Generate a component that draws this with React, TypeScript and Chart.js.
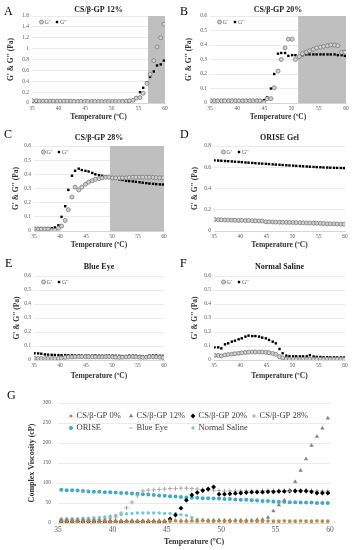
import React, { useEffect, useRef } from "react";
import { Chart, registerables } from "chart.js";

Chart.register(...registerables);

const SERIF = "'Liberation Serif', 'Times New Roman', serif";

// ---------------- Data: oscillatory rheology (G', G'') ----------------
const tempsGel = [35.1, 35.8, 36.4, 37.1, 37.7, 38.4, 39.0, 39.7, 40.3, 41.0, 41.6, 42.3, 42.9, 43.6, 44.2, 44.9, 45.5, 46.2, 46.8, 47.5, 48.1, 48.8, 49.4, 50.1, 50.7, 51.4, 52.0, 52.7, 53.3, 54.0, 54.6, 55.3, 55.9, 56.6, 57.2, 57.9, 58.5, 59.2, 59.8];

const storage12 = [0.04, 0.04, 0.035, 0.035, 0.035, 0.035, 0.035, 0.035, 0.035, 0.035, 0.035, 0.035, 0.03, 0.03, 0.03, 0.03, 0.03, 0.03, 0.03, 0.03, 0.03, 0.03, 0.03, 0.03, 0.03, 0.03, 0.03, 0.035, 0.04, 0.05, 0.09, 0.1, 0.18, 0.36, 0.53, 0.78, 1.03, 1.2, 1.45];
const loss12 = [0.02, 0.02, 0.02, 0.02, 0.02, 0.02, 0.02, 0.02, 0.02, 0.02, 0.02, 0.02, 0.02, 0.02, 0.02, 0.02, 0.02, 0.02, 0.02, 0.02, 0.02, 0.02, 0.02, 0.02, 0.02, 0.02, 0.02, 0.025, 0.03, 0.04, 0.1, 0.2, 0.28, 0.38, 0.48, 0.58, 0.69, 0.71, 0.78];

const storage20 = [0.015, 0.015, 0.015, 0.015, 0.015, 0.015, 0.015, 0.015, 0.015, 0.015, 0.015, 0.015, 0.015, 0.015, 0.015, 0.005, 0.03, 0.03, 0.105, 0.22, 0.3, 0.38, 0.44, 0.44, 0.3, 0.32, 0.34, 0.35, 0.36, 0.37, 0.38, 0.385, 0.39, 0.395, 0.4, 0.4, 0.395, 0.35, 0.35];
const loss20 = [0.02, 0.02, 0.02, 0.02, 0.02, 0.02, 0.02, 0.02, 0.02, 0.02, 0.02, 0.02, 0.02, 0.02, 0.02, 0.02, 0.04, 0.1, 0.2, 0.34, 0.345, 0.345, 0.325, 0.33, 0.33, 0.32, 0.33, 0.335, 0.335, 0.335, 0.335, 0.335, 0.335, 0.335, 0.335, 0.335, 0.33, 0.33, 0.325];

const storage28 = [0.015, 0.015, 0.015, 0.015, 0.015, 0.005, 0.005, 0.02, 0.035, 0.075, 0.15, 0.24, 0.31, 0.29, 0.31, 0.33, 0.345, 0.355, 0.365, 0.37, 0.375, 0.38, 0.38, 0.375, 0.375, 0.375, 0.375, 0.375, 0.378, 0.38, 0.38, 0.38, 0.38, 0.38, 0.38, 0.378, 0.377, 0.376, 0.375];
const loss28 = [0.02, 0.02, 0.02, 0.02, 0.02, 0.02, 0.025, 0.04, 0.1, 0.175, 0.29, 0.39, 0.425, 0.44, 0.43, 0.425, 0.42, 0.41, 0.4, 0.395, 0.39, 0.385, 0.38, 0.375, 0.37, 0.365, 0.36, 0.355, 0.352, 0.35, 0.347, 0.344, 0.341, 0.338, 0.335, 0.333, 0.331, 0.329, 0.328];

const storageOrise = [0.108, 0.106, 0.105, 0.104, 0.103, 0.102, 0.101, 0.1, 0.1, 0.099, 0.098, 0.097, 0.096, 0.095, 0.094, 0.087, 0.086, 0.085, 0.084, 0.083, 0.082, 0.081, 0.081, 0.08, 0.079, 0.078, 0.077, 0.076, 0.075, 0.074, 0.073, 0.072, 0.07, 0.069, 0.068, 0.067, 0.066, 0.065, 0.064];
const lossOrise = [0.665, 0.663, 0.661, 0.659, 0.657, 0.655, 0.652, 0.65, 0.648, 0.645, 0.643, 0.641, 0.638, 0.636, 0.634, 0.632, 0.63, 0.627, 0.625, 0.623, 0.621, 0.619, 0.617, 0.615, 0.613, 0.611, 0.609, 0.607, 0.605, 0.603, 0.601, 0.6, 0.598, 0.597, 0.596, 0.595, 0.594, 0.593, 0.592];

const storageBlueEye = [0.012, 0.011, 0.01, 0.01, 0.01, 0.01, 0.01, 0.011, 0.013, 0.018, 0.021, 0.022, 0.023, 0.024, 0.024, 0.024, 0.023, 0.023, 0.022, 0.022, 0.022, 0.023, 0.023, 0.022, 0.02, 0.019, 0.02, 0.021, 0.022, 0.023, 0.022, 0.02, 0.019, 0.02, 0.023, 0.024, 0.022, 0.02, 0.018];
const lossBlueEye = [0.048, 0.047, 0.045, 0.04, 0.038, 0.037, 0.036, 0.035, 0.035, 0.035, 0.034, 0.034, 0.033, 0.033, 0.032, 0.032, 0.031, 0.031, 0.032, 0.031, 0.03, 0.031, 0.032, 0.031, 0.03, 0.03, 0.028, 0.028, 0.031, 0.031, 0.03, 0.028, 0.027, 0.027, 0.031, 0.033, 0.032, 0.03, 0.029];

const storageSaline = [0.033, 0.033, 0.029, 0.036, 0.039, 0.042, 0.045, 0.048, 0.051, 0.054, 0.056, 0.057, 0.057, 0.057, 0.057, 0.055, 0.052, 0.047, 0.04, 0.024, 0.014, 0.007, 0.005, 0.005, 0.005, 0.005, 0.005, 0.005, 0.005, 0.005, 0.005, 0.005, 0.005, 0.005, 0.005, 0.005, 0.005, 0.005, 0.005];
const lossSaline = [0.09, 0.09, 0.083, 0.112, 0.119, 0.131, 0.138, 0.148, 0.155, 0.167, 0.174, 0.171, 0.171, 0.167, 0.16, 0.155, 0.143, 0.131, 0.119, 0.079, 0.048, 0.031, 0.027, 0.026, 0.026, 0.026, 0.026, 0.026, 0.034, 0.025, 0.022, 0.022, 0.02, 0.02, 0.019, 0.019, 0.018, 0.018, 0.018];

// gel-region shading (temperature ranges)
const shade12 = [56.8, 60];
const shade20 = [51.2, 60];
const shade28 = [49.6, 60];

// ---------------- Data: complex viscosity (cP) ----------------
const tempsVisc = [35.3, 35.8, 36.3, 36.8, 37.3, 37.8, 38.3, 38.8, 39.3, 39.8, 40.3, 40.8, 41.3, 41.8, 42.3, 42.8, 43.3, 43.8, 44.3, 44.8, 45.3, 45.8, 46.3, 46.8, 47.3, 47.8, 48.3, 48.8, 49.3, 49.8, 50.3, 50.8, 51.3, 51.8, 52.3, 52.8, 53.3, 53.8, 54.3, 54.8, 55.3, 55.8, 56.3, 56.8, 57.3, 57.8, 58.3, 58.8, 59.3, 59.8];
const viscNames = ["CS/β-GP 0%", "CS/β-GP 12%", "CS/β-GP 20%", "CS/β-GP 28%", "ORISE", "Blue Eye", "Normal Saline"];
const visc0 = [4, 4, 4, 3, 3, 4, 3, 3, 4, 3, 3, 4, 3, 3, 4, 3, 4, 3, 4, 4, 4, 5, 4, 4, 5, 4, 5, 4, 4, 5, 4, 4, 5, 4, 4, 5, 4, 4, 5, 4, 4, 5, 4, 4, 5, 4, 4, 5, 4, 4];
const visc12 = [8, 8, 7, 7, 7, 7, 7, 6, 6, 6, 6, 6, 6, 6, 6, 6, 6, 6, 6, 6, 6, 6, 6, 6, 6, 6, 7, 7, 7, 7, 7, 7, 7, 7, 7, 7, 8, 9, 14, 30, 45, 57, 80, 103, 131, 160, 194, 216, 237, 262];
const visc20 = [3, 3, 3, 3, 3, 3, 3, 3, 3, 3, 3, 3, 3, 3, 3, 3, 3, 3, 3, 3, 10, 20, 37, 57, 70, 76, 81, 85, 90, 72, 72, 73, 74, 75, 76, 77, 77, 77, 78, 78, 79, 79, 80, 80, 80, 80, 78, 75, 75, 75];
const visc28 = [8, 8, 8, 8, 8, 8, 8, 9, 10, 12, 15, 25, 38, 52, 68, 80, 82, 83, 84, 85, 86, 86, 87, 87, 86, 85, 84, 83, 82, 81, 80, 80, 80, 80, 80, 80, 80, 81, 81, 81, 81, 81, 81, 81, 81, 81, 81, 80, 80, 80];
const viscOrise = [83, 82, 82, 81, 80, 79, 78, 78, 77, 77, 76, 75, 75, 74, 73, 72, 71, 70, 69, 68, 67, 66, 65, 64, 63, 63, 62, 62, 61, 61, 60, 60, 59, 58, 58, 57, 56, 55, 55, 54, 53, 53, 52, 52, 51, 51, 51, 50, 50, 50];
const viscBlueEye = [6, 6, 5, 5, 5, 5, 5, 5, 5, 5, 5, 5, 5, 5, 5, 5, 5, 5, 5, 5, 5, 5, 5, 5, 5, 5, 6, 6, 6, 6, 6, 6, 6, 6, 6, 6, 6, 6, 6, 7, 7, 7, 7, 7, 7, 7, 7, 7, 7, 7];
const viscSaline = [10, 10, 11, 11, 12, 12, 13, 14, 15, 17, 19, 21, 23, 24, 25, 25, 25, 25, 25, 24, 24, 23, 21, 19, 14, 9, 7, 6, 5, 5, 5, 5, 5, 5, 5, 5, 5, 5, 5, 5, 5, 5, 5, 5, 5, 5, 5, 5, 5, 5];

// ---------------- helpers ----------------
const xy = (xs: number[], ys: number[]) => xs.map((x, i) => ({ x, y: ys[i] }));

function drawMarker(ctx: CanvasRenderingContext2D, style: string, r: number, x: number, y: number, fill: string, stroke: string, bw: number) {
  ctx.save();
  ctx.fillStyle = fill;
  ctx.strokeStyle = stroke;
  ctx.lineWidth = bw;
  ctx.beginPath();
  let doFill = true;
  switch (style) {
    case "rect": {
      const s = r * Math.SQRT1_2;
      ctx.rect(x - s, y - s, 2 * s, 2 * s);
      break;
    }
    case "rectRot":
      ctx.moveTo(x, y - r); ctx.lineTo(x + r, y); ctx.lineTo(x, y + r); ctx.lineTo(x - r, y); ctx.closePath();
      break;
    case "triangle":
      ctx.moveTo(x, y - r); ctx.lineTo(x + r * 0.866, y + r * 0.5); ctx.lineTo(x - r * 0.866, y + r * 0.5); ctx.closePath();
      break;
    case "cross":
      ctx.moveTo(x - r, y); ctx.lineTo(x + r, y); ctx.moveTo(x, y - r); ctx.lineTo(x, y + r);
      doFill = false;
      break;
    case "line":
      ctx.moveTo(x - r, y); ctx.lineTo(x + r, y);
      doFill = false;
      break;
    default:
      ctx.arc(x, y, r, 0, Math.PI * 2);
  }
  if (doFill) ctx.fill();
  if (bw > 0) ctx.stroke();
  ctx.restore();
}

type LegendItem = { ds: number; dx: number; dy: number };
type PanelCfg = {
  id: string;
  letter: string;
  letterPos: [number, number];
  canvas: [number, number, number, number];
  plot: [number, number, number, number];
  title?: string;
  titleY?: number;
  titleSize?: number;
  xTitleY: number;
  yTitleX: number;
  xTitleSize: number;
  yTitleSize: number;
  yTitle: string;
  xTickSize: number;
  yTickSize: number;
  xTickPad: number;
  yTickPad: number;
  yMax: number;
  yStep: number;
  shade?: number[];
  datasets: any[];
  legend: LegendItem[];
  legendSize: number;
  legendGap: number;
  legendColor: string;
};

function makeDecor(cfg: PanelCfg) {
  const ct = cfg.canvas[1];
  return {
    id: "decor_" + cfg.id,
    beforeDatasetsDraw(chart: any) {
      if (!cfg.shade) return;
      const { ctx, chartArea } = chart;
      const xs = chart.scales.x;
      const x0 = xs.getPixelForValue(cfg.shade[0]);
      const x1 = xs.getPixelForValue(cfg.shade[1]);
      ctx.save();
      ctx.fillStyle = "#bfbfbf";
      ctx.fillRect(x0, chartArea.top, x1 - x0, chartArea.bottom - chartArea.top);
      ctx.restore();
    },
    afterDraw(chart: any) {
      const { ctx, chartArea } = chart;
      ctx.save();
      if (cfg.title) {
        ctx.font = `bold ${cfg.titleSize}px ${SERIF}`;
        ctx.fillStyle = "#1a1a1a";
        ctx.textAlign = "center";
        ctx.textBaseline = "middle";
        ctx.fillText(cfg.title, (chartArea.left + chartArea.right) / 2, (cfg.titleY as number) - ct);
      }
      ctx.font = `${cfg.legendSize}px ${SERIF}`;
      ctx.textAlign = "left";
      ctx.textBaseline = "middle";
      for (const it of cfg.legend) {
        const ds = cfg.datasets[it.ds];
        const x = chartArea.left + it.dx;
        const y = chartArea.top + it.dy;
        drawMarker(ctx, ds.pointStyle, ds.pointRadius, x, y, ds.backgroundColor, ds.borderColor, ds.borderWidth);
        ctx.fillStyle = cfg.legendColor;
        ctx.fillText(ds.label, x + cfg.legendGap, y);
      }
      ctx.restore();
    },
  };
}

const fmt = (v: number) => String(Math.round(v * 100) / 100);

function buildConfig(cfg: PanelCfg): any {
  const [cl, ct, cw, ch] = cfg.canvas;
  const [pl, pt, pr, pb] = cfg.plot;
  const xLH = cfg.xTitleSize * 1.2;
  const yLH = cfg.yTitleSize * 1.2;
  return {
    type: "scatter",
    data: { datasets: cfg.datasets },
    options: {
      responsive: false,
      animation: false,
      devicePixelRatio: 1,
      events: [],
      layout: { padding: { left: 0, top: pt - ct, right: cl + cw - pr, bottom: 0 } },
      plugins: { legend: { display: false }, tooltip: { enabled: false }, title: { display: false } },
      scales: {
        x: {
          type: "linear",
          position: "bottom",
          min: 35,
          max: 60,
          ticks: { stepSize: 5, padding: cfg.xTickPad, color: "#595959", font: { family: SERIF, size: cfg.xTickSize }, maxRotation: 0, autoSkip: false },
          grid: { display: false, drawTicks: false },
          border: { display: true, color: "#d0d0d0", width: 0.8 },
          title: {
            display: true,
            text: "Temperature (ºC)",
            color: "#333333",
            font: { family: SERIF, size: cfg.xTitleSize, weight: "bold" },
            padding: { top: 0, bottom: Math.max(0, ct + ch - cfg.xTitleY - xLH / 2) },
          },
          afterFit: (s: any) => {
            s.height = ct + ch - pb;
            s.paddingLeft = 0;
            s.paddingRight = 0;
          },
        },
        y: {
          type: "linear",
          min: 0,
          max: cfg.yMax,
          ticks: { stepSize: cfg.yStep, padding: cfg.yTickPad, color: "#595959", font: { family: SERIF, size: cfg.yTickSize }, callback: (v: number) => fmt(v) },
          grid: { color: "#e3e3e3", lineWidth: 0.7, drawTicks: false },
          border: { display: false },
          title: {
            display: true,
            text: cfg.yTitle,
            color: "#333333",
            font: { family: SERIF, size: cfg.yTitleSize, weight: "bold" },
            padding: { top: Math.max(0, cfg.yTitleX - cl - yLH / 2), bottom: 0 },
          },
          afterFit: (s: any) => {
            s.width = pl - cl;
            s.paddingTop = 0;
            s.paddingBottom = 0;
          },
        },
      },
    },
    plugins: [makeDecor(cfg)],
  };
}

// ---------------- panel definitions ----------------
const gelDatasets = (storage: number[], loss: number[]) => [
  { label: "G'", data: xy(tempsGel, storage), pointStyle: "circle", pointRadius: 2, backgroundColor: "#d2d2d2", borderColor: "#7a7a7a", borderWidth: 0.8 },
  { label: "G''", data: xy(tempsGel, loss), pointStyle: "rect", pointRadius: 1.7, backgroundColor: "#000000", borderColor: "#000000", borderWidth: 0 },
];

const gelLegend: LegendItem[] = [
  { ds: 0, dx: 9.5, dy: 6 },
  { ds: 1, dx: 25, dy: 6 },
];

const gelCommon = {
  titleSize: 8,
  xTitleSize: 7.5,
  yTitleSize: 7.5,
  yTitle: "G' & G'' (Pa)",
  xTickSize: 5.5,
  yTickSize: 5.5,
  xTickPad: 2,
  yTickPad: 3,
  legend: gelLegend,
  legendSize: 6,
  legendGap: 3,
  legendColor: "#595959",
};

const panels: PanelCfg[] = [
  { ...gelCommon, id: "A", letter: "A", letterPos: [4, 5], canvas: [0, 0, 178, 122], plot: [32, 16, 165, 103], title: "CS/β-GP 12%", titleY: 10, xTitleY: 117, yTitleX: 11, yMax: 1.6, yStep: 0.2, shade: shade12, datasets: gelDatasets(storage12, loss12) },
  { ...gelCommon, id: "B", letter: "B", letterPos: [180, 5], canvas: [178, 0, 178, 122], plot: [210, 16, 346, 103], title: "CS/β-GP 20%", titleY: 10, xTitleY: 117, yTitleX: 189, yMax: 0.6, yStep: 0.1, shade: shade20, datasets: gelDatasets(storage20, loss20) },
  { ...gelCommon, id: "C", letter: "C", letterPos: [4, 128], canvas: [0, 122, 178, 128], plot: [34, 146, 164, 231], title: "CS/β-GP 28%", titleY: 138, xTitleY: 246, yTitleX: 16, yMax: 0.6, yStep: 0.1, shade: shade28, datasets: gelDatasets(storage28, loss28) },
  { ...gelCommon, id: "D", letter: "D", letterPos: [180, 128], canvas: [178, 122, 178, 128], plot: [214, 146, 345, 231], title: "ORISE Gel", titleY: 138, xTitleY: 246, yTitleX: 195, yMax: 0.8, yStep: 0.2, datasets: gelDatasets(storageOrise, lossOrise) },
  { ...gelCommon, id: "E", letter: "E", letterPos: [5, 257], canvas: [0, 250, 178, 132], plot: [34, 276, 164, 360], title: "Blue Eye", titleY: 267, xTitleY: 376, yTitleX: 17, yMax: 0.6, yStep: 0.1, datasets: gelDatasets(storageBlueEye, lossBlueEye) },
  { ...gelCommon, id: "F", letter: "F", letterPos: [180, 257], canvas: [178, 250, 178, 132], plot: [214, 276, 345, 360], title: "Normal Saline", titleY: 267, xTitleY: 376, yTitleX: 195, yMax: 0.6, yStep: 0.1, datasets: gelDatasets(storageSaline, lossSaline) },
  {
    id: "G",
    letter: "G",
    letterPos: [7, 389],
    canvas: [0, 382, 356, 168],
    plot: [58, 403, 330, 523],
    xTitleY: 542,
    yTitleX: 32,
    xTitleSize: 8,
    yTitleSize: 8,
    yTitle: "Complex Viscosity (cP)",
    xTickSize: 7.5,
    yTickSize: 5.5,
    xTickPad: 3,
    yTickPad: 7,
    yMax: 300,
    yStep: 50,
    legendSize: 8.5,
    legendGap: 5.5,
    legendColor: "#404040",
    legend: [
      { ds: 0, dx: 13, dy: 13 },
      { ds: 1, dx: 73, dy: 13 },
      { ds: 2, dx: 135, dy: 13 },
      { ds: 3, dx: 196, dy: 13 },
      { ds: 4, dx: 13, dy: 25 },
      { ds: 5, dx: 73, dy: 25 },
      { ds: 6, dx: 135, dy: 25 },
    ],
    datasets: [
      { label: viscNames[0], data: xy(tempsVisc, visc0), pointStyle: "circle", pointRadius: 1.6, backgroundColor: "#c8843c", borderColor: "#c8843c", borderWidth: 0 },
      { label: viscNames[1], data: xy(tempsVisc, visc12), pointStyle: "triangle", pointRadius: 2, backgroundColor: "#7f7f7f", borderColor: "#7f7f7f", borderWidth: 0.5 },
      { label: viscNames[2], data: xy(tempsVisc, visc20), pointStyle: "rectRot", pointRadius: 2.4, backgroundColor: "#000000", borderColor: "#000000", borderWidth: 0 },
      { label: viscNames[3], data: xy(tempsVisc, visc28), pointStyle: "cross", pointRadius: 2.2, backgroundColor: "rgba(0,0,0,0)", borderColor: "#a6a6a6", borderWidth: 1 },
      { label: viscNames[4], data: xy(tempsVisc, viscOrise), pointStyle: "circle", pointRadius: 2, backgroundColor: "#3fa9c9", borderColor: "#3fa9c9", borderWidth: 0 },
      { label: viscNames[5], data: xy(tempsVisc, viscBlueEye), pointStyle: "line", pointRadius: 2, backgroundColor: "#bfbfbf", borderColor: "#bfbfbf", borderWidth: 1.2 },
      { label: viscNames[6], data: xy(tempsVisc, viscSaline), pointStyle: "circle", pointRadius: 1.7, backgroundColor: "#74c9cf", borderColor: "#74c9cf", borderWidth: 0 },
    ],
  },
];

function ChartPanel({ cfg }: { cfg: PanelCfg }) {
  const ref = useRef<HTMLCanvasElement>(null);
  useEffect(() => {
    if (!ref.current) return;
    const chart = new Chart(ref.current, buildConfig(cfg));
    return () => chart.destroy();
  }, [cfg]);
  const [l, t, w, h] = cfg.canvas;
  return (
    <>
      <canvas ref={ref} width={w} height={h} style={{ position: "absolute", left: l, top: t, width: w, height: h }} />
      <div
        style={{
          position: "absolute",
          left: cfg.letterPos[0],
          top: cfg.letterPos[1],
          fontFamily: SERIF,
          fontSize: 12,
          lineHeight: "12px",
          color: "#000",
        }}
      >
        {cfg.letter}
      </div>
    </>
  );
}

export default function App() {
  return (
    <div style={{ position: "absolute", left: 0, top: 0, width: 356, height: 550, background: "#ffffff", overflow: "hidden" }}>
      {panels.map((p) => (
        <ChartPanel key={p.id} cfg={p} />
      ))}
    </div>
  );
}
